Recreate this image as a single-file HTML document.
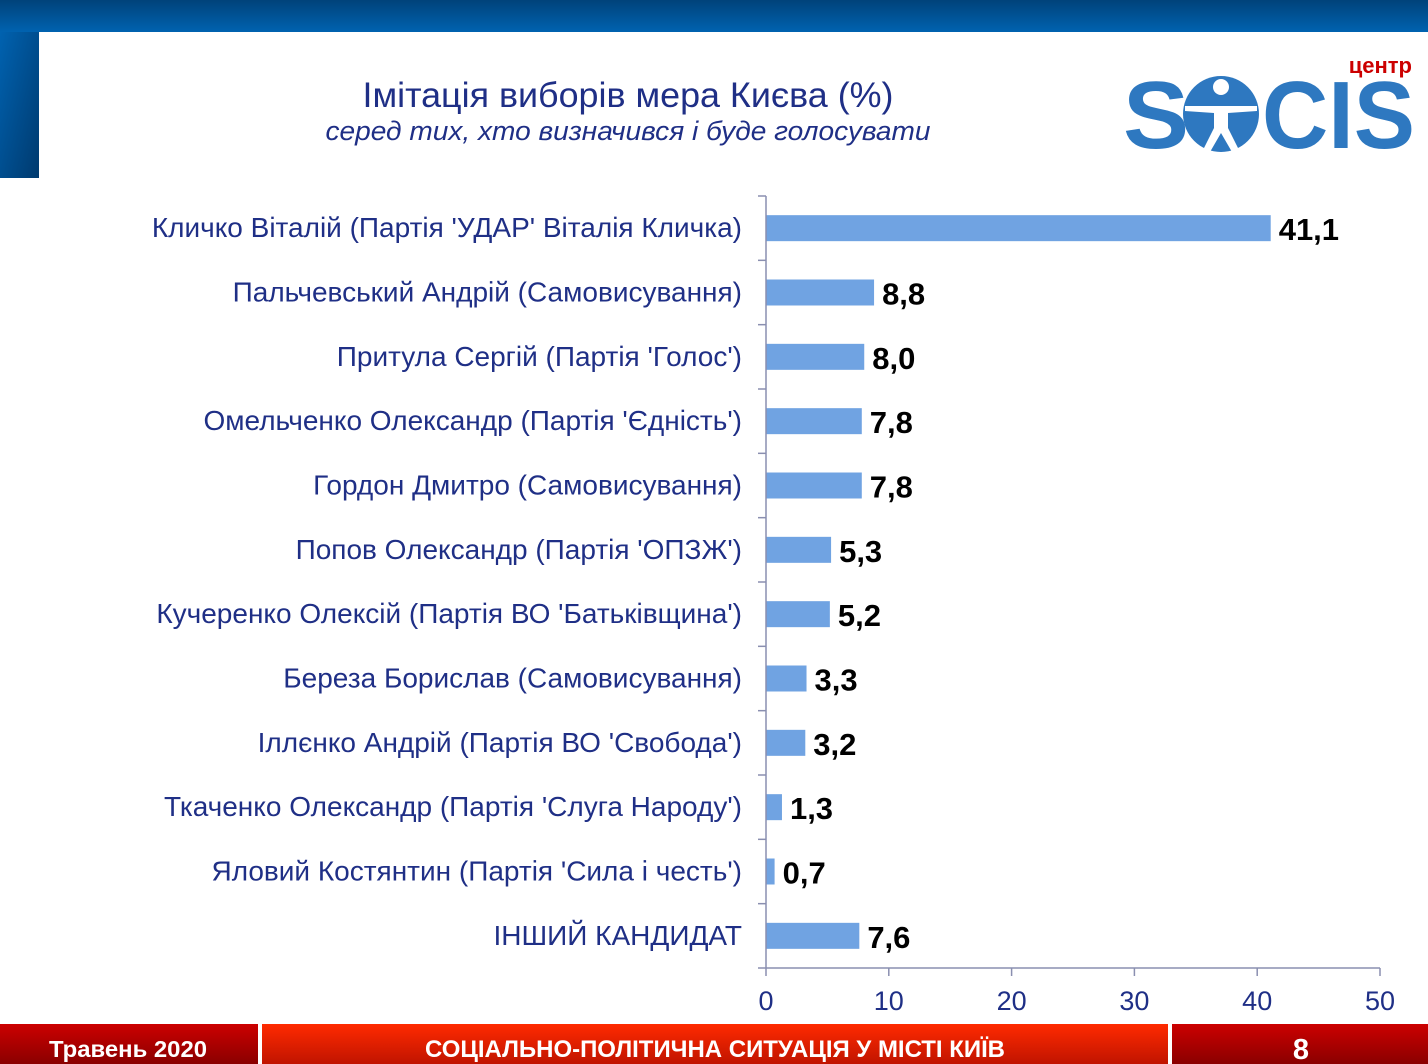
<!DOCTYPE html>
<html><head><meta charset="utf-8"><style>
html,body{margin:0;padding:0;width:1428px;height:1064px;overflow:hidden;background:#fff;font-family:"Liberation Sans",sans-serif}
</style></head><body>
<svg width="1428" height="1064" xmlns="http://www.w3.org/2000/svg" id="svg">
<defs>
<linearGradient id="top" x1="0" y1="0" x2="0" y2="1"><stop offset="0" stop-color="#00427a"/><stop offset="1" stop-color="#0062b0"/></linearGradient>
<linearGradient id="side" x1="0" y1="0" x2="1" y2="1"><stop offset="0" stop-color="#0062b0"/><stop offset="1" stop-color="#003a6e"/></linearGradient>
<linearGradient id="dred" x1="0" y1="0" x2="0" y2="1"><stop offset="0" stop-color="#cc0000"/><stop offset="1" stop-color="#8a0000"/></linearGradient>
<linearGradient id="red" x1="0" y1="0" x2="0" y2="1"><stop offset="0" stop-color="#ff2a00"/><stop offset="1" stop-color="#c01400"/></linearGradient>
</defs>
<rect x="0" y="0" width="1428" height="32" fill="url(#top)"/>
<rect x="0" y="32" width="39" height="146" fill="url(#side)"/>
<text x="628" y="107" text-anchor="middle" font-size="35" fill="#1f2f86" textLength="531" lengthAdjust="spacingAndGlyphs">Імітація виборів мера Києва (%)</text>
<text x="628" y="140" text-anchor="middle" font-size="27" font-style="italic" fill="#1f2f86" textLength="605" lengthAdjust="spacingAndGlyphs">серед тих, хто визначився і буде голосувати</text>
<g>
<text x="1412" y="73" text-anchor="end" font-size="22" font-weight="bold" fill="#cc0000">центр</text>
<text x="1123" y="148" font-size="96" font-weight="bold" fill="#2e78c0" textLength="66" lengthAdjust="spacingAndGlyphs">S</text>
<circle cx="1221" cy="114" r="38" fill="#2e78c0"/>
<circle cx="1221" cy="87" r="8" fill="#fff"/>
<path d="M1185 106 L1257 106 L1257 111 L1228 113 L1228 128 L1240 152 L1232 152 L1221 133 L1210 152 L1202 152 L1214 128 L1214 113 L1185 111 Z" fill="#fff"/>
<text x="1262" y="148" font-size="96" font-weight="bold" fill="#2e78c0" textLength="153" lengthAdjust="spacingAndGlyphs">CIS</text>
</g>
<g id="chart"></g>
<rect x="0" y="1024" width="258" height="40" fill="url(#dred)"/>
<rect x="262" y="1024" width="906" height="40" fill="url(#red)"/>
<rect x="1172" y="1024" width="256" height="40" fill="url(#dred)"/>
<text x="128" y="1057" text-anchor="middle" font-size="23" font-weight="bold" fill="#fff" textLength="158" lengthAdjust="spacingAndGlyphs">Травень 2020</text>
<text x="715" y="1057" text-anchor="middle" font-size="24" font-weight="bold" fill="#fff" textLength="580" lengthAdjust="spacingAndGlyphs">СОЦІАЛЬНО-ПОЛІТИЧНА СИТУАЦІЯ У МІСТІ КИЇВ</text>
<text x="1301" y="1059" text-anchor="middle" font-size="29" font-weight="bold" fill="#fff">8</text>
</svg>
<script>
const categories=["Кличко Віталій (Партія 'УДАР' Віталія Кличка)","Пальчевський Андрій (Самовисування)","Притула Сергій (Партія 'Голос')","Омельченко Олександр (Партія 'Єдність')","Гордон Дмитро (Самовисування)","Попов Олександр (Партія 'ОПЗЖ')","Кучеренко Олексій (Партія ВО 'Батьківщина')","Береза Борислав (Самовисування)","Іллєнко Андрій (Партія ВО 'Свобода')","Ткаченко Олександр (Партія 'Слуга Народу')","Яловий Костянтин (Партія 'Сила і честь')","ІНШИЙ КАНДИДАТ"];
const values=[41.1,8.8,8.0,7.8,7.8,5.3,5.2,3.3,3.2,1.3,0.7,7.6];
const valueLabels=["41,1","8,8","8,0","7,8","7,8","5,3","5,2","3,3","3,2","1,3","0,7","7,6"];
const xTicks=[0,10,20,30,40,50];
const NS="http://www.w3.org/2000/svg";
const g=document.getElementById('chart');
const X0=766,X1=1380,Y0=196,Y1=968,XMAX=50;
const xs=v=>X0+(v/XMAX)*(X1-X0);
const bandH=(Y1-Y0)/categories.length;
const yb=i=>Y0+i*bandH;
function mk(t,a){const e=document.createElementNS(NS,t);for(const k in a)e.setAttribute(k,a[k]);g.appendChild(e);return e;}
categories.forEach((c,i)=>{
  const cy=yb(i)+bandH/2;
  const r=mk('rect',{x:X0,y:cy-13,width:xs(values[i])-X0,height:26,fill:'#70a3e2'});
  
  
  const t=mk('text',{x:742,y:cy+9,'text-anchor':'end','font-size':28,fill:'#1f2f86'});
  t.textContent=c;
  
  
  const v=mk('text',{x:xs(values[i])+8,y:cy+12,'font-size':31,'font-weight':'bold',fill:'#000'});
  v.textContent=valueLabels[i];
  
  
});
for(let i=0;i<=categories.length;i++){
  const l=mk('line',{x1:758,x2:X0,y1:yb(i),y2:yb(i),stroke:'#8a8fb0','stroke-width':1.5});
  
  
}
const ya=mk('line',{x1:X0,x2:X0,y1:Y0,y2:Y1,stroke:'#8a8fb0','stroke-width':1.5});


const xa=mk('line',{x1:X0,x2:X1,y1:Y1,y2:Y1,stroke:'#8a8fb0','stroke-width':1.5});


xTicks.forEach(v=>{
  const l=mk('line',{x1:xs(v),x2:xs(v),y1:Y1,y2:Y1+8,stroke:'#8a8fb0','stroke-width':1.5});
  
  
  const t=mk('text',{x:xs(v),y:1010,'text-anchor':'middle','font-size':27,fill:'#1f2f86'});
  t.textContent=v;
  
  
});
</script>
</body></html>
